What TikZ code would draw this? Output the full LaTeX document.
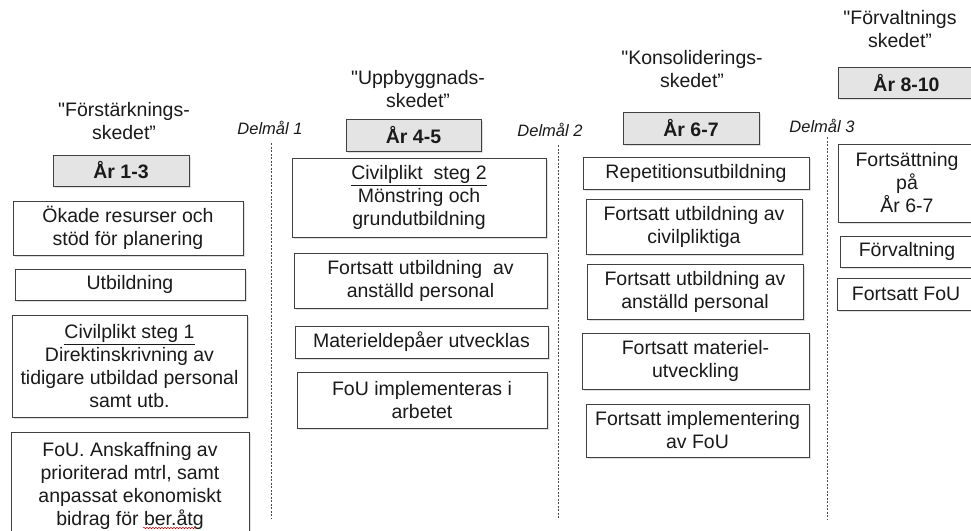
\documentclass[tikz,border=0pt]{standalone}
\usepackage{fontspec}
\setmainfont{Liberation Sans}[Ligatures=TeXOff]
\usetikzlibrary{shadows,decorations.pathmorphing}
\definecolor{edge}{HTML}{404040}
\definecolor{yearfill}{HTML}{E4E4E4}
\definecolor{ink}{HTML}{1A1A1A}
\begin{document}
\begin{tikzpicture}[x=1pt,y=-1pt,
  txt/.style={font=\fontsize{19.5}{23}\selectfont, text=ink, align=center, inner sep=0pt},
  box/.style={txt, draw=edge, line width=0.8pt, fill=white,
    drop shadow={opacity=0.25, shadow xshift=2pt, shadow yshift=-2pt}},
  yearbox/.style={box, fill=yearfill, font=\fontsize{19.5}{23}\selectfont\bfseries},
  goal/.style={font=\fontsize{16.5}{20}\selectfont\itshape, text=ink, inner sep=0pt},
  goalline/.style={draw=black!70, line width=0.7pt, dash pattern=on 2pt off 1.5pt}]
\fill[white] (0,0) rectangle (971,530);
\clip (0,0) rectangle (971,530);

% titles
\node[txt] (t1) at (124,121) {"Förstärknings-\\skedet”};
\node[txt] (t2) at (418,89) {"Uppbyggnads-\\skedet”};
\node[txt] (t3) at (692,69) {"Konsoliderings-\\skedet”};
\node[txt] (t4) at (900,29) {"Förvaltnings\\skedet”};

% milestones
\node[goal] (d1) at (270,128) {Delmål 1};
\node[goal] (d2) at (550,130) {Delmål 2};
\node[goal] (d3) at (822,126) {Delmål 3};
\coordinate (l1a) at (271,143); \coordinate (l1b) at (271,519);
\coordinate (l2a) at (558,145); \coordinate (l2b) at (558,519);
\coordinate (l3a) at (827,137); \coordinate (l3b) at (827,519);
\draw[goalline] (l1a) -- (l1b);
\draw[goalline] (l2a) -- (l2b);
\draw[goalline] (l3a) -- (l3b);

% year boxes
\node[yearbox, minimum width=136pt, minimum height=31pt] (y1) at (121,170.5) {År 1-3};
\node[yearbox, minimum width=135pt, minimum height=32pt] (y2) at (413.5,135) {År 4-5};
\node[yearbox, minimum width=136pt, minimum height=32pt] (y3) at (691,128) {År 6-7};
\node[yearbox, minimum width=137pt, minimum height=31pt] (y4) at (906.5,82.5) {År 8-10};

% column 1
\node[box, minimum width=230pt, minimum height=54pt] (c1a) at (128,228) {Ökade resurser och\\stöd för planering};
\node[box, minimum width=230pt, minimum height=31pt] (c1b) at (130,284.5) {Utbildning};
\node[box, minimum width=235pt, minimum height=102pt] (c1c) at (129.5,366) {\underline{Civilplikt steg 1}\\Direktinskrivning av\\tidigare utbildad personal\\samt utb.};
\node[box, minimum width=238pt, minimum height=108pt] (c1d) at (130,486) {FoU. Anskaffning av\\prioriterad mtrl, samt\\anpassat ekonomiskt\\bidrag för ber.åtg};
\coordinate (sq1) at (143,528); \coordinate (sq2) at (196,528);
\draw[red!80!black, line width=0.5pt, decorate, decoration={snake, segment length=3pt, amplitude=0.7pt}] (sq1) -- (sq2);

% column 2
\node[box, minimum width=254pt, minimum height=79pt] (c2a) at (419,197.5) {\underline{Civilplikt\ \ steg 2}\\Mönstring och\\grundutbildning};
\node[box, minimum width=253pt, minimum height=55pt] (c2b) at (420.5,280.5) {Fortsatt utbildning\ \ av\\anställd personal};
\node[box, minimum width=253pt, minimum height=32pt] (c2c) at (421.5,342) {Materieldepåer utvecklas};
\node[box, minimum width=250pt, minimum height=56pt] (c2d) at (422,400) {FoU implementeras i\\arbetet};

% column 3
\node[box, minimum width=226pt, minimum height=32pt] (c3a) at (696,173) {Repetitionsutbildning};
\node[box, minimum width=216pt, minimum height=55pt] (c3b) at (694,226.5) {Fortsatt utbildning av\\civilpliktiga};
\node[box, minimum width=216pt, minimum height=55pt] (c3c) at (695,291.5) {Fortsatt utbildning av\\anställd personal};
\node[box, minimum width=227pt, minimum height=56pt] (c3d) at (695.5,361) {Fortsatt materiel-\\utveckling};
\node[box, minimum width=223pt, minimum height=53pt] (c3e) at (697.5,430.5) {Fortsatt implementering\\av FoU};

% column 4
\node[box, minimum width=138pt, minimum height=78pt] (c4a) at (907,183) {Fortsättning\\på\\År 6-7};
\node[box, minimum width=134pt, minimum height=31pt] (c4b) at (907,251.5) {Förvaltning};
\node[box, minimum width=138pt, minimum height=32pt] (c4c) at (906,294) {Fortsatt FoU};
\end{tikzpicture}
\end{document}
